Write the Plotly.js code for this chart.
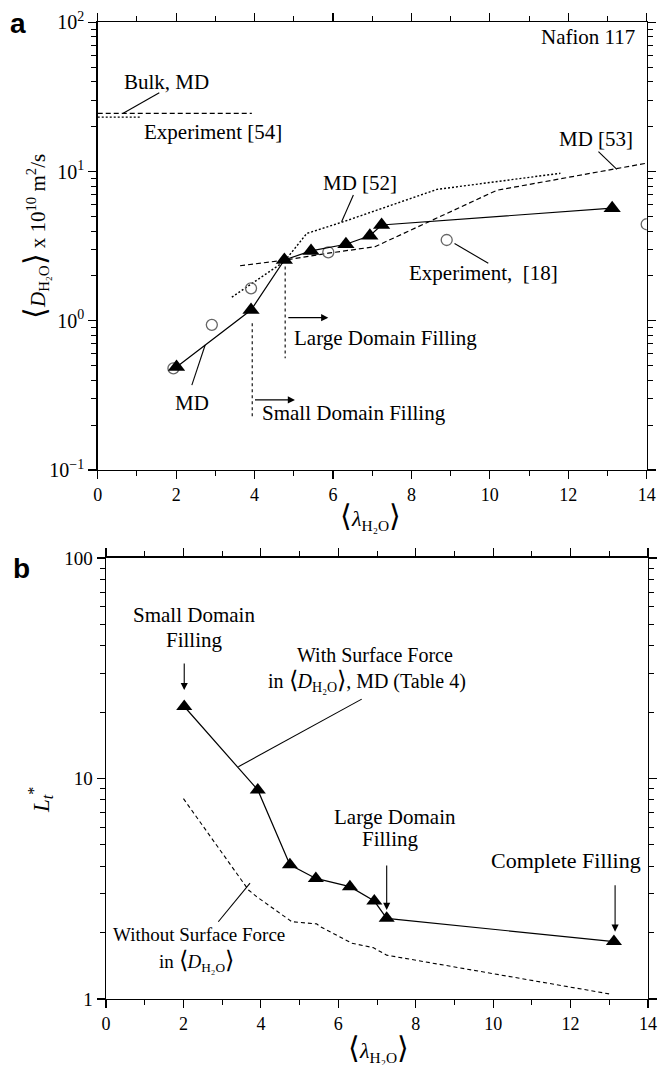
<!DOCTYPE html>
<html><head><meta charset="utf-8">
<script src="https://cdn.plot.ly/plotly-3.0.1.min.js"></script>
<style>html,body{margin:0;padding:0;background:#fff}#chart{width:659px;height:1065px}</style>
</head><body><div id="chart"></div>
<script>
// ---- Panel a data ----
const mdLambdaA   = [2.01, 3.91, 4.76, 5.44, 6.33, 6.94, 7.24, 13.12];
const mdDiffA     = [0.49, 1.18, 2.56, 2.94, 3.26, 3.72, 4.39, 5.69];
const exp18Lambda = [1.93, 2.91, 3.91, 5.88, 8.90, 14.0];
const exp18Diff   = [0.48, 0.94, 1.65, 2.88, 3.48, 4.44];
const md52Lambda  = [3.42, 4.76, 5.33, 6.3, 8.65, 11.8];
const md52Diff    = [1.44, 2.5, 3.85, 4.65, 7.6, 9.75];
const md53Lambda  = [3.63, 4.76, 5.88, 7.07, 10.18, 14.0];
const md53Diff    = [2.34, 2.55, 2.84, 3.14, 7.5, 11.4];
const bulkLambda  = [0, 3.93];
const bulkDiff    = [24.6, 24.6];
const exp54Lambda = [0, 1.12];
const exp54Diff   = [23.2, 23.2];
// ---- Panel b data ----
const lambdaB     = [2.02, 3.92, 4.75, 5.42, 6.30, 6.93, 7.25, 13.12];
const ltWithSF    = [21.2, 8.87, 4.06, 3.52, 3.23, 2.78, 2.32, 1.82];
const lambdaNoSF  = [2.0, 3.68, 3.89, 4.8, 5.44, 5.53, 6.35, 6.9, 7.25, 13.06];
const ltWithoutSF = [8.1, 3.12, 2.91, 2.24, 2.19, 2.13, 1.79, 1.71, 1.58, 1.05];
// ---- ticks ----
const xTicks = [0, 2, 4, 6, 8, 10, 12, 14];
const xMinor = [1, 3, 5, 7, 9, 11, 13];
const yTicksA = [0.1, 1, 10, 100];
const yTickTextA = ['10<sup>\u22121</sup>', '10<sup>0</sup>', '10<sup>1</sup>', '10<sup>2</sup>'];
const yTicksB = [1, 10, 100];
const yTickTextB = ['1', '10', '100'];

function logMinor(lo, hi) {
  const v = [];
  for (let e = lo; e < hi; e++) for (let m = 2; m <= 9; m++) v.push(m * Math.pow(10, e));
  return v;
}

const SERIF = 'Liberation Serif, Times New Roman, serif';
const BLACK = '#000';

const traces = [
  {x: bulkLambda, y: bulkDiff, xaxis: 'x', yaxis: 'y', mode: 'lines', line: {color: BLACK, width: 1.2, dash: '5px,3px'}},
  {x: exp54Lambda, y: exp54Diff, xaxis: 'x', yaxis: 'y', mode: 'lines', line: {color: BLACK, width: 1.3, dash: '2px,2px'}},
  {x: md52Lambda, y: md52Diff, xaxis: 'x', yaxis: 'y', mode: 'lines', line: {color: BLACK, width: 1.4, dash: '2px,2px'}},
  {x: md53Lambda, y: md53Diff, xaxis: 'x', yaxis: 'y', mode: 'lines', line: {color: BLACK, width: 1.2, dash: '5px,3px'}},
  {x: exp18Lambda, y: exp18Diff, xaxis: 'x', yaxis: 'y', mode: 'markers',
   marker: {symbol: 'circle-open', size: 11, color: '#666', line: {color: '#666', width: 1.3}}},
  {x: mdLambdaA, y: mdDiffA, xaxis: 'x', yaxis: 'y', mode: 'lines+markers',
   line: {color: BLACK, width: 1.2}, marker: {symbol: 'triangle-up', size: 15, color: BLACK}},
  {x: lambdaNoSF, y: ltWithoutSF, xaxis: 'x2', yaxis: 'y2', mode: 'lines', line: {color: BLACK, width: 1.1, dash: '4px,3px'}},
  {x: lambdaB, y: ltWithSF, xaxis: 'x2', yaxis: 'y2', mode: 'lines+markers',
   line: {color: BLACK, width: 1.2}, marker: {symbol: 'triangle-up', size: 14, color: BLACK}}
];

function axis(extra) {
  return Object.assign({
    showline: true, linecolor: BLACK, linewidth: 1.5, mirror: 'ticks',
    ticks: 'outside', ticklen: 8, tickwidth: 1.2, tickcolor: BLACK,
    showgrid: false, zeroline: false,
    tickfont: {family: SERIF, size: 18, color: BLACK}
  }, extra);
}
const minorX = {tickmode: 'array', tickvals: xMinor, ticks: 'outside', ticklen: 5, tickwidth: 1, tickcolor: BLACK, showgrid: false};

const layout = {
  width: 659, height: 1065,
  margin: {l: 0, r: 0, t: 0, b: 0},
  paper_bgcolor: '#fff', plot_bgcolor: '#fff',
  showlegend: false,
  font: {family: SERIF, color: BLACK},
  xaxis: axis({domain: [0.1483, 0.9813], range: [0, 14], tickmode: 'array', tickvals: xTicks, anchor: 'y', minor: minorX}),
  yaxis: axis({domain: [0.5587, 0.9789], type: 'log', range: [-1, 2], tickmode: 'array', tickvals: yTicksA, ticktext: yTickTextA,
    tickfont: {family: SERIF, size: 20, color: BLACK}, anchor: 'x',
    minor: {tickmode: 'array', tickvals: logMinor(-1, 2), ticks: 'outside', ticklen: 5, tickwidth: 1, tickcolor: BLACK, showgrid: false}}),
  xaxis2: axis({domain: [0.1609, 0.9833], range: [0, 14], tickmode: 'array', tickvals: xTicks, anchor: 'y2', minor: minorX}),
  yaxis2: axis({domain: [0.0620, 0.4761], type: 'log', range: [0, 2], tickmode: 'array', tickvals: yTicksB, ticktext: yTickTextB,
    tickfont: {family: SERIF, size: 19, color: BLACK}, anchor: 'x2',
    minor: {tickmode: 'array', tickvals: logMinor(0, 2), ticks: 'outside', ticklen: 5, tickwidth: 1, tickcolor: BLACK, showgrid: false}}),
  shapes: [],
  annotations: []
};

function seg(xr, yr, x0, y0, x1, y1, dash) {
  layout.shapes.push({type: 'line', xref: xr, yref: yr, x0: x0, y0: y0, x1: x1, y1: y1,
    line: {color: BLACK, width: 1.1, dash: dash || 'solid'}});
}
function txt(xr, yr, x, y, t, size, anchor) {
  layout.annotations.push({xref: xr, yref: yr, x: x, y: y, text: t, showarrow: false,
    xanchor: anchor || 'center', yanchor: 'middle', font: {family: SERIF, size: size || 21, color: BLACK}});
}
function arrow(xr, yr, x, y, ax, ay) {
  layout.annotations.push({xref: xr, yref: yr, x: x, y: y, ax: ax, ay: ay, text: ' ', showarrow: true,
    arrowhead: 2, arrowsize: 1.3, arrowwidth: 1.1, arrowcolor: BLACK});
}
function paperTxt(x, y, t, size, angle, fam, bold) {
  layout.annotations.push({xref: 'paper', yref: 'paper', x: x, y: y, text: t, showarrow: false,
    xanchor: 'center', yanchor: 'middle', textangle: angle || 0,
    font: {family: fam || SERIF, size: size, color: BLACK, weight: bold ? 'bold' : 'normal'}});
}

const BR = s => '<span style="font-size:' + s + 'px">';
const LBR = s => BR(s) + '\u27E8</span>';
const RBR = s => BR(s) + '\u27E9</span>';

// ---- Panel a decorations ----
seg('x', 'y', 0.65, 24.6, 1.57, 33.8);
seg('x', 'y', 6.52, 6.98, 6.22, 4.62);
seg('x', 'y', 12.77, 13.6, 13.24, 10.37);
seg('x', 'y', 9.10, 3.30, 9.96, 2.43);
seg('x', 'y', 2.40, 0.371, 2.74, 0.689);
seg('x', 'y', 3.94, 0.964, 3.94, 0.222, 'dot');
seg('x', 'y', 4.78, 2.31, 4.78, 0.561, 'dot');
arrow('x', 'y', 5.03, Math.log10(0.295), -43, 0);
arrow('x', 'y', 5.88, Math.log10(1.05), -43, 0);
txt('x', 'y', 1.76, 1.603, 'Bulk, MD');
txt('x', 'y', 2.94, 1.266, 'Experiment [54]');
txt('x', 'y', 13.75, 1.905, 'Nafion 117', 21, 'right');
txt('x', 'y', 6.69, 0.926, 'MD [52]');
txt('x', 'y', 12.71, 1.217, 'MD [53]');
txt('x', 'y', 9.83, 0.319, 'Experiment,\u00a0 [18]');
txt('x', 'y', 4.955, -0.117, 'Large Domain Filling', 21, 'left');
txt('x', 'y', 4.14, -0.619, 'Small Domain Filling', 21, 'left');
txt('x', 'y', 2.40, -0.548, 'MD');

// ---- Panel b decorations ----
txt('x2', 'y2', 2.28, 1.741, 'Small Domain');
txt('x2', 'y2', 2.28, 1.628, 'Filling');
arrow('x2', 'y2', 2.02, 1.401, 0, -35);
txt('x2', 'y2', 6.95, 1.560, 'With Surface Force', 20);
txt('x2', 'y2', 6.73, 1.442, 'in ' + LBR(24) + '<i>D</i><sub>H\u2082O</sub>' + RBR(24) + ', MD (Table 4)', 20);
seg('x2', 'y2', 6.605, 22.9, 3.418, 11.3);
txt('x2', 'y2', 7.46, 0.827, 'Large Domain');
txt('x2', 'y2', 7.34, 0.724, 'Filling');
arrow('x2', 'y2', 7.25, 0.404, 0, -53);
txt('x2', 'y2', 11.89, 0.630, 'Complete Filling', 22);
arrow('x2', 'y2', 13.15, 0.305, 0, -55);
txt('x2', 'y2', 2.40, 0.293, 'Without Surface Force', 19);
txt('x2', 'y2', 2.34, 0.172, 'in ' + LBR(24) + '<i>D</i><sub>H\u2082O</sub>' + RBR(24), 19);
seg('x2', 'y2', 2.90, 2.24, 3.72, 3.35);

// ---- axis titles & panel labels ----
paperTxt(35 / 659, 1 - 237 / 1065, LBR(30) + '<i>D</i><sub>H\u2082O</sub>' + RBR(30) + ' x 10<sup>10</sup> m<sup>2</sup>/s', 21, -90);
paperTxt(40 / 659, 1 - 800 / 1065, '<i>L<sub>t</sub></i><sup>*</sup>', 23, -90);
paperTxt(370 / 659, 1 - 516 / 1065, LBR(30) + '<i>\u03BB</i><sub>H\u2082O</sub>' + RBR(30), 22, 0);
paperTxt(378 / 659, 1 - 1048 / 1065, LBR(30) + '<i>\u03BB</i><sub>H\u2082O</sub>' + RBR(30), 22, 0);
paperTxt(18 / 659, 1 - 23 / 1065, 'a', 28, 0, 'Liberation Sans, Arial, sans-serif', true);
paperTxt(21 / 659, 1 - 568 / 1065, 'b', 28, 0, 'Liberation Sans, Arial, sans-serif', true);

Plotly.newPlot('chart', traces, layout, {staticPlot: true, displayModeBar: false});
</script></body></html>
